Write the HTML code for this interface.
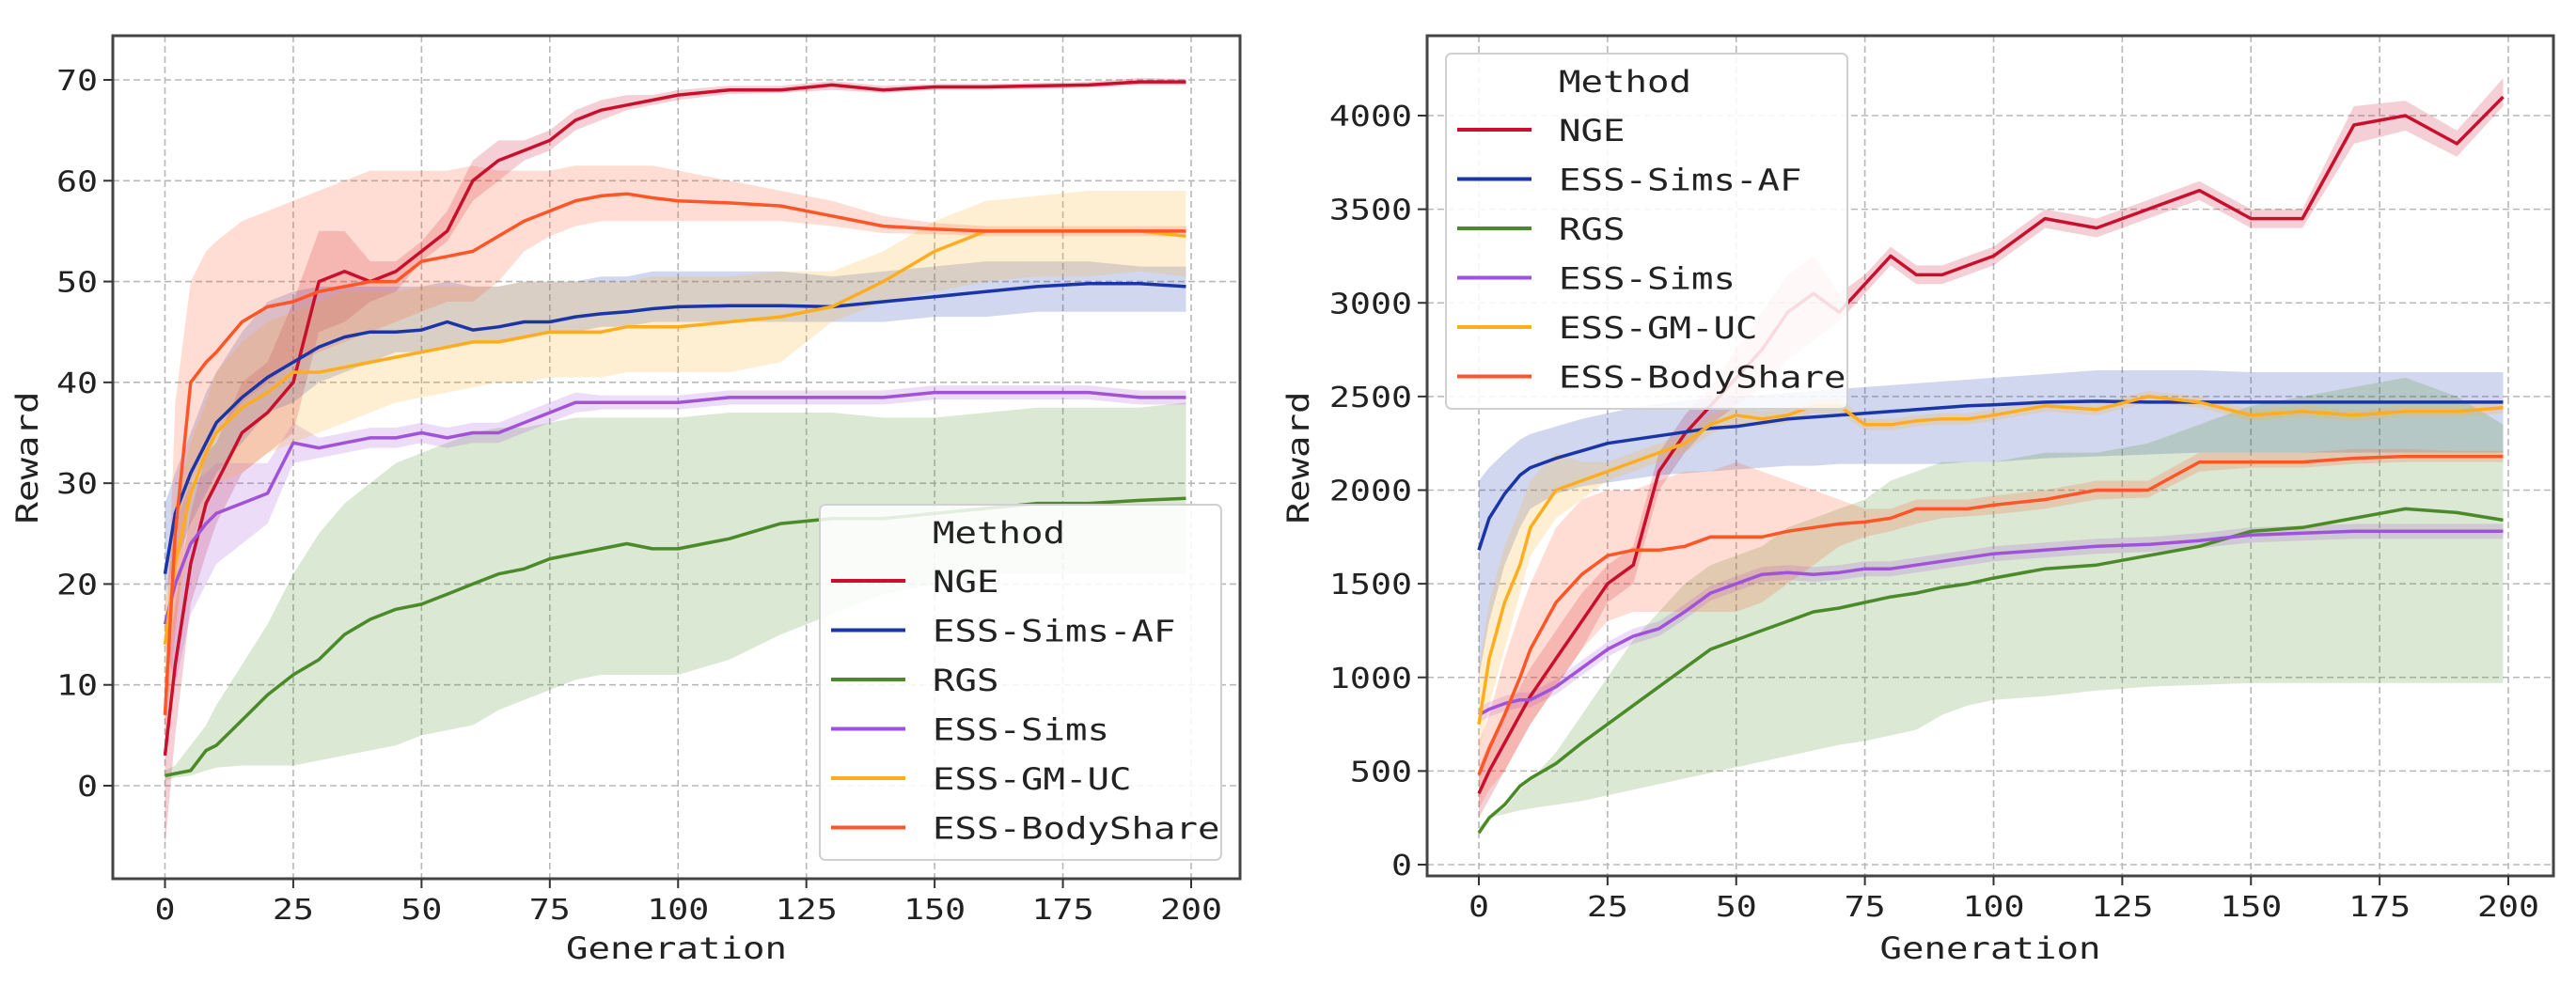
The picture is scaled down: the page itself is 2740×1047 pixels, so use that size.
<!DOCTYPE html>
<html><head><meta charset="utf-8"><style>
html,body{margin:0;padding:0;background:#fff;width:2740px;height:1047px;overflow:hidden}
svg{display:block}
text{font-family:"DejaVu Sans Mono","Liberation Mono",monospace;fill:#222}
</style></head><body>
<svg id="chart" width="2740" height="1047" viewBox="0 0 2740 1047" xmlns="http://www.w3.org/2000/svg"></svg>
<script>
const names=["NGE","ESS-Sims-AF","RGS","ESS-Sims","ESS-GM-UC","ESS-BodyShare"];
const colors=["#c8102e","#1a35a8","#4a8a28","#a052d8","#ffad1f","#ff5527"];
const gens=[0,2,5,8,10,15,20,25,30,35,40,45,50,55,60,65,70,75,80,85,90,95,100,110,120,130,140,150,160,170,180,190,199];
const xTicks=[0,25,50,75,100,125,150,175,200];
const yTicksL=[0,10,20,30,40,50,60,70];
const yTicksR=[0,500,1000,1500,2000,2500,3000,3500,4000];
// Left chart
const L_NGE_m=[3,12,22,28,30,35,37,40,50,51,50,51,53,55,60,62,63,64,66,67,67.5,68,68.5,69,69,69.5,69,69.3,69.3,69.4,69.5,69.8,69.8];
const L_NGE_lo=[-6,5,18,23,26,31,33,35,45,46,48,49,52,54,58,60,62,63,65,66,67,67.5,68,68.6,68.7,69,68.7,69,69,69.1,69.2,69.5,69.5];
const L_NGE_hi=[10,18,27,33,34,40,42,48,55,55,52,52,54,57,62,64,64,65,67,68,68.5,68.5,69,69.4,69.4,69.9,69.4,69.6,69.6,69.7,69.8,70.2,70.1];
const L_AF_m=[21,27,31,34,36,38.5,40.5,42,43.5,44.5,45,45,45.2,46,45.2,45.5,46,46,46.5,46.8,47,47.3,47.5,47.6,47.6,47.5,48,48.5,49,49.5,49.8,49.8,49.5];
const L_AF_lo=[19,22,26,29,31,34,37,38,40,41,42,43,43,43.5,44,44,44.5,45,45,45.5,45.5,46,46,46,46,46,46,46.5,46.5,47,47,47,47];
const L_AF_hi=[28,31,35,39,41,45,48,49,49.5,49.5,49.5,49.5,49.5,50,49.5,49.5,50,50,50,50.5,50.5,51,51,51,51,50.5,51,51.5,52,52,52,51.5,51.5];
const L_RGS_m=[1,1.2,1.5,3.5,4,6.5,9,11,12.5,15,16.5,17.5,18,19,20,21,21.5,22.5,23,23.5,24,23.5,23.5,24.5,26,26.5,26.5,27,27.5,28,28,28.3,28.5];
const L_RGS_lo=[0.5,0.8,1,1.5,1.8,2,2,2,2.5,3,3.5,4,5,5.5,6,7.5,8.5,9.5,10.5,11,11,11,11,12.5,15,17,19,20,21,21,21,21,21];
const L_RGS_hi=[1.5,2,4,6,8,12,16,21,25,28,30,32,33,34,35,35.5,35.5,36,36.5,36.5,36.5,36.5,36.5,37,37,37,36.5,36.5,37,37.5,37.5,37.5,38];
const L_S_m=[16,20,24,26,27,28,29,34,33.5,34,34.5,34.5,35,34.5,35,35,36,37,38,38,38,38,38,38.5,38.5,38.5,38.5,39,39,39,39,38.5,38.5];
const L_S_lo=[14,10,17,20,22,24,26,32,32.5,33,33.5,33.5,34,33.5,34,34,35,36,37,37.3,37.3,37.3,37.3,37.8,37.8,37.8,37.8,38.3,38.3,38.3,38.3,37.8,37.8];
const L_S_hi=[18,26,30,31,32,32,32,36,34.5,35,35.5,35.5,36,35.5,36,36,37,38,39,38.7,38.7,38.7,38.7,39.2,39.2,39.2,39.2,39.7,39.7,39.7,39.7,39.2,39.2];
const L_GM_m=[14,22,29,33,35,37.5,39,41,41,41.5,42,42.5,43,43.5,44,44,44.5,45,45,45,45.5,45.5,45.5,46,46.5,47.5,50,53,55,55,55,55,54.5];
const L_GM_lo=[10,16,24,28,30,31,33,34,35,36,37,38,38.5,39,39.5,40,40,40.5,40.5,40.5,41,41,41,41,42,46,48,49,50,50.5,50.5,51,50.5];
const L_GM_hi=[18,28,34,38,41,44,46,47,48,49,49,49,49.5,49.5,49.5,49.5,50,50,50,50,50,50.5,50.5,50.5,51,51,53,56,58,58.5,59,59,59];
const L_BS_m=[7,25,40,42,43,46,47.5,48,49,49.5,50,50,52,52.5,53,54.5,56,57,58,58.5,58.7,58.3,58,57.8,57.5,56.5,55.5,55.2,55,55,55,55,55];
const L_BS_lo=[4,15,30,33,35,38,40,42,43,44,45,46,47,48,48,50,53,54.5,55.5,56,56,56,56,56,56,55.5,54.8,54.7,54.5,54.5,54.5,54.5,54.5];
const L_BS_hi=[10,38,50,53,54,56,57,58,59,60,61,61,61,61,61.5,61,61,61,61.5,61.5,61.5,61.5,61,60,59,58,56.5,55.8,55.5,55.5,55.5,55.5,55.5];
// Right chart
const R_NGE_m=[380,500,650,800,900,1100,1300,1500,1600,2100,2300,2450,2600,2750,2950,3050,2950,3100,3250,3150,3150,3200,3250,3450,3400,3500,3600,3450,3450,3950,4000,3850,4100];
const R_NGE_lo=[250,350,500,650,750,950,1150,1400,1500,2000,2200,2350,2450,2550,2700,2800,2900,3050,3200,3100,3100,3150,3200,3400,3350,3450,3550,3400,3400,3850,3920,3780,4050];
const R_NGE_hi=[520,650,800,950,1050,1250,1450,1600,1700,2200,2400,2550,2750,2950,3150,3250,3050,3150,3300,3200,3200,3250,3300,3500,3450,3550,3650,3500,3500,4050,4080,3920,4200];
const R_AF_m=[1680,1850,1980,2080,2120,2170,2210,2250,2270,2290,2310,2330,2340,2360,2380,2390,2400,2410,2420,2430,2440,2450,2455,2470,2475,2470,2470,2470,2470,2470,2470,2470,2470];
const R_AF_lo=[1000,1300,1600,1800,1900,1980,2020,2040,2060,2080,2090,2100,2110,2120,2130,2130,2140,2140,2140,2140,2140,2150,2150,2170,2180,2190,2200,2200,2200,2200,2200,2200,2200];
const R_AF_hi=[2050,2120,2200,2270,2300,2340,2380,2410,2440,2460,2480,2490,2500,2510,2520,2530,2540,2550,2560,2570,2580,2590,2600,2620,2640,2640,2640,2630,2630,2630,2630,2630,2630];
const R_RGS_m=[170,250,320,420,460,540,650,750,850,950,1050,1150,1200,1250,1300,1350,1370,1400,1430,1450,1480,1500,1530,1580,1600,1650,1700,1780,1800,1850,1900,1880,1840];
const R_RGS_lo=[150,250,270,290,300,320,340,370,400,430,460,490,520,550,580,610,640,660,690,720,800,850,880,900,930,950,960,970,970,970,970,970,970];
const R_RGS_hi=[200,260,300,400,450,600,800,1000,1200,1350,1500,1600,1650,1700,1800,1850,1900,1950,2050,2100,2150,2150,2150,2200,2200,2250,2350,2450,2500,2550,2600,2500,2350];
const R_S_m=[800,830,860,880,880,950,1050,1150,1220,1260,1350,1450,1500,1550,1560,1550,1560,1580,1580,1600,1620,1640,1660,1680,1700,1710,1730,1760,1770,1780,1780,1780,1780];
const R_S_lo=[760,790,820,840,840,910,1010,1110,1180,1220,1310,1410,1460,1510,1520,1510,1520,1540,1540,1560,1580,1600,1620,1640,1660,1670,1690,1720,1730,1740,1740,1740,1740];
const R_S_hi=[840,870,900,920,920,990,1090,1190,1260,1300,1390,1490,1540,1590,1600,1590,1600,1620,1620,1640,1660,1680,1700,1720,1740,1750,1770,1800,1810,1820,1820,1820,1820];
const R_GM_m=[750,1100,1400,1600,1800,2000,2050,2100,2150,2200,2250,2350,2400,2380,2400,2450,2450,2350,2350,2370,2380,2380,2400,2450,2430,2500,2470,2400,2420,2400,2420,2420,2440];
const R_GM_lo=[600,850,1150,1450,1650,1850,1950,2050,2100,2150,2200,2300,2350,2340,2360,2410,2410,2320,2320,2340,2350,2350,2370,2420,2400,2470,2440,2370,2390,2370,2390,2390,2410];
const R_GM_hi=[1050,1400,1700,1900,2050,2200,2150,2150,2200,2250,2300,2400,2450,2420,2440,2490,2490,2380,2380,2400,2410,2410,2430,2480,2460,2530,2500,2430,2450,2430,2450,2450,2470];
const R_BS_m=[480,620,800,1000,1150,1400,1550,1650,1680,1680,1700,1750,1750,1750,1780,1800,1820,1830,1850,1900,1900,1900,1920,1950,2000,2000,2150,2150,2150,2170,2180,2180,2180];
const R_BS_lo=[300,400,500,650,750,950,1150,1300,1350,1350,1350,1350,1350,1400,1500,1600,1700,1750,1780,1820,1850,1860,1870,1900,1950,1960,2100,2120,2120,2140,2150,2150,2150];
const R_BS_hi=[650,800,1100,1350,1500,1800,1950,2000,2000,2050,2100,2100,2150,2100,2050,2000,1950,1900,1900,1950,1950,1950,1970,2000,2050,2050,2200,2200,2200,2220,2220,2210,2210];

const NS="http://www.w3.org/2000/svg";
const svg=document.getElementById('chart');
function mk(tag,attrs,parent){const e=document.createElementNS(NS,tag);for(const k in attrs)e.setAttribute(k,attrs[k]);(parent||svg).appendChild(e);return e;}
function txt(s,x,y,size,anchor,parent,rot){
  const e=mk('text',{'font-size':size,'text-anchor':anchor,transform:rot?`translate(${x},${y}) rotate(-90) scale(1.22,1)`:`translate(${x},${y}) scale(1.22,1)`},parent);
  e.textContent=s;return e;
}
function drawChart(cfg){
  const g=mk('g',{});
  
  
  const xs=v=>cfg.x0+(v/200)*(cfg.x200-cfg.x0);
  const ys=v=>cfg.yb-(v-cfg.yv0)/(cfg.yv1-cfg.yv0)*(cfg.yb-cfg.yt);
  const clip='clip-'+cfg.name;
  const cp=mk('clipPath',{id:clip},g);mk('rect',{x:cfg.fl,y:cfg.ft,width:cfg.fr-cfg.fl,height:cfg.fb-cfg.ft},cp);
  // grid
  const grid=mk('g',{stroke:'#b8b8b8','stroke-width':1.6,'stroke-dasharray':'7,4'},g);
  
  
  xTicks.forEach(t=>mk('line',{x1:xs(t),x2:xs(t),y1:cfg.ft,y2:cfg.fb},grid));
  cfg.yTicks.forEach(t=>mk('line',{x1:cfg.fl,x2:cfg.fr,y1:ys(t),y2:ys(t)},grid));
  const plot=mk('g',{'clip-path':`url(#${clip})`},g);
  cfg.series.forEach((s,i)=>{
    let d='';
    gens.forEach((x,j)=>{d+=(j?'L':'M')+xs(x).toFixed(1)+','+ys(s.hi[j]).toFixed(1);});
    for(let j=gens.length-1;j>=0;j--)d+='L'+xs(gens[j]).toFixed(1)+','+ys(s.lo[j]).toFixed(1);
    const b=mk('path',{d:d+'Z',fill:colors[i],'fill-opacity':0.2,stroke:'none'},plot);
    
    
  });
  cfg.series.forEach((s,i)=>{
    const d=gens.map((x,j)=>(j?'L':'M')+xs(x).toFixed(1)+','+ys(s.m[j]).toFixed(1)).join('');
    const l=mk('path',{d,fill:'none',stroke:colors[i],'stroke-width':3.5,'stroke-linejoin':'round'},plot);
    
    
  });
  // frame
  const fr=mk('rect',{x:cfg.fl,y:cfg.ft,width:cfg.fr-cfg.fl,height:cfg.fb-cfg.ft,fill:'none',stroke:'#444','stroke-width':3},g);
  
  
  const ax=mk('g',{},g);
  
  
  xTicks.forEach(t=>{mk('line',{x1:xs(t),x2:xs(t),y1:cfg.fb,y2:cfg.fb+10,stroke:'#333','stroke-width':2},ax);
    const e=txt(String(t),xs(t),cfg.fb+43,30,'middle',ax);});
  const ay=mk('g',{},g);
  
  
  cfg.yTicks.forEach(t=>{mk('line',{x1:cfg.fl-10,x2:cfg.fl,y1:ys(t),y2:ys(t),stroke:'#333','stroke-width':2},ay);
    txt(String(t),cfg.fl-16,ys(t)+11,30,'end',ay);});
  const xt=txt('Generation',(cfg.fl+cfg.fr)/2,1020,32,'middle',g);
  
  
  const yt=txt('Reward',cfg.ylx,487,32,'middle',g,true);
  
  
  // legend
  const lg=mk('g',{},g);
  
  
  mk('rect',{x:cfg.lx,y:cfg.ly,width:427,height:378,rx:6,fill:'#fff','fill-opacity':0.85,stroke:'#d0d0d0','stroke-width':2},lg);
  txt('Method',cfg.lx+120,cfg.ly+41,32,'start',lg);
  names.forEach((n,i)=>{
    const y=cfg.ly+81+i*52.5;
    const le=mk('g',{},lg);
    
    
    mk('line',{x1:cfg.lx+12,x2:cfg.lx+91,y1:y,y2:y,stroke:colors[i],'stroke-width':4},le);
    txt(n,cfg.lx+120,y+12,32,'start',le);
  });
}
drawChart({name:'left-chart',fl:120,fr:1319,ft:38,fb:935,x0:175.5,x200:1267,yb:836,yt:85,yv0:0,yv1:70,yTicks:yTicksL,ylx:40,lx:872,ly:537,
  series:[{m:L_NGE_m,lo:L_NGE_lo,hi:L_NGE_hi},{m:L_AF_m,lo:L_AF_lo,hi:L_AF_hi},{m:L_RGS_m,lo:L_RGS_lo,hi:L_RGS_hi},{m:L_S_m,lo:L_S_lo,hi:L_S_hi},{m:L_GM_m,lo:L_GM_lo,hi:L_GM_hi},{m:L_BS_m,lo:L_BS_lo,hi:L_BS_hi}]});
drawChart({name:'right-chart',fl:1518,fr:2716,ft:38,fb:932,x0:1573,x200:2668,yb:920,yt:123,yv0:0,yv1:4000,yTicks:yTicksR,ylx:1392,lx:1538,ly:57,
  series:[{m:R_NGE_m,lo:R_NGE_lo,hi:R_NGE_hi},{m:R_AF_m,lo:R_AF_lo,hi:R_AF_hi},{m:R_RGS_m,lo:R_RGS_lo,hi:R_RGS_hi},{m:R_S_m,lo:R_S_lo,hi:R_S_hi},{m:R_GM_m,lo:R_GM_lo,hi:R_GM_hi},{m:R_BS_m,lo:R_BS_lo,hi:R_BS_hi}]});
</script>
</body></html>
